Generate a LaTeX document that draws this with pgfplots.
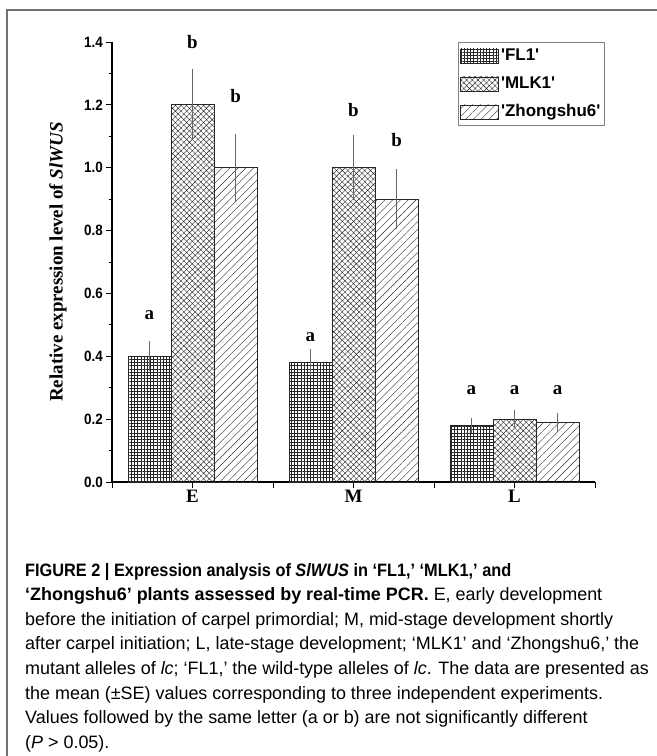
\documentclass[border=0pt]{standalone}
\usepackage{fontspec}
\setmainfont{Liberation Serif}
\newfontfamily\arial{Liberation Sans}
\newfontfamily\arialn{Liberation Sans}[FakeStretch=0.9]
\newfontfamily\tnr{Liberation Serif}
\usepackage{pgfplots}
\pgfplotsset{compat=1.18}
\usetikzlibrary{patterns.meta}
\newcommand\capfont{\arial\fontsize{18}{18}\selectfont}
\newcommand\legfont{\arial\bfseries\fontsize{17}{17}\selectfont}
\begin{document}
\begin{tikzpicture}
\path[use as bounding box] (0,0) rectangle (657bp,-756bp);
\draw[black!55, line width=1.2bp] (7bp,-760bp) -- (7bp,-10bp) -- (660bp,-10bp);
\begin{axis}[
  at={(112bp,-482bp)}, anchor=south west,
  scale only axis, width=483bp, height=440bp,
  xmin=0.5, xmax=3.5, ymin=0, ymax=1.4,
  clip=false,
  ybar=0pt, bar width=43bp,
  axis x line*=bottom, axis y line*=left,
  axis line style={line width=1.3bp, black},
  xtick={1,2,3}, xticklabels={E,M,L},
  extra x ticks={0.5,1.5,2.5,3.5}, extra x tick labels={},
  ytick={0,0.2,0.4,0.6,0.8,1.0,1.2,1.4},
  minor ytick={0.1,0.3,0.5,0.7,0.9,1.1,1.3},
  tick align=outside, major tick length=6bp, minor tick length=3.5bp,
  tick style={black, line width=1bp},
  /pgf/number format/assume math mode=true,
  yticklabel style={font=\arialn\bfseries\fontsize{15}{15}\selectfont, inner sep=3bp},
  yticklabel={\pgfmathprintnumber[fixed,fixed zerofill,precision=1]{\tick}},
  xticklabel style={font=\tnr\bfseries\fontsize{19}{19}\selectfont, inner sep=2bp},
  legend style={at={(0.716,1)}, anchor=north west, draw=black!50, line width=0.8bp,
    font=\legfont, nodes={font=\legfont, text height=13bp, text depth=4bp, inner sep=2bp},
    inner xsep=2bp, inner ysep=3bp, row sep=7bp},
  legend cell align=left,
  legend image code/.code={\draw[#1, line width=0.8bp] (0bp,-7bp) rectangle (38bp,7bp);},
  error bars/error bar style={black!60, line width=0.6bp},
  error bars/error mark options={black!60, line width=0.6bp, mark size=4bp},
]
\addplot[draw=black!85, line width=0.8bp, pattern={Hatch[angle=0,distance=3.2bp,line width=0.4bp]}, pattern color=black!85,
  error bars/.cd, y dir=both, y explicit]
  coordinates {(1,0.40) +- (0,0.035) (2,0.38) +- (0,0.03) (3,0.18) +- (0,0.01)};
\addplot[draw=black!85, line width=0.8bp, pattern={Hatch[angle=45,distance=4bp,line width=0.4bp]}, pattern color=black!85,
  error bars/.cd, y dir=both, y explicit]
  coordinates {(1,1.20) +- (0,0.10) (2,1.00) +- (0,0.09) (3,0.20) +- (0,0.015)};
\addplot[draw=black!85, line width=0.8bp, pattern={Lines[angle=45,distance=5.5bp,line width=0.4bp]}, pattern color=black!85,
  error bars/.cd, y dir=both, y explicit]
  coordinates {(1,1.00) +- (0,0.095) (2,0.90) +- (0,0.082) (3,0.19) +- (0,0.018)};
\legend{\textquotesingle FL1\textquotesingle, \textquotesingle MLK1\textquotesingle, \textquotesingle Zhongshu6\textquotesingle}
\begin{scope}[every node/.style={font=\tnr\bfseries\fontsize{19}{19}\selectfont, inner sep=0pt}]
\node at (axis cs:0.732,0.532) {a};
\node at (axis cs:1,1.40) {b};
\node at (axis cs:1.268,1.229) {b};
\node at (axis cs:1.732,0.462) {a};
\node at (axis cs:2,1.185) {b};
\node at (axis cs:2.268,1.089) {b};
\node at (axis cs:2.732,0.293) {a};
\node at (axis cs:3,0.293) {a};
\node at (axis cs:3.268,0.293) {a};
\end{scope}
\end{axis}
\node[rotate=90, font=\tnr\bfseries\fontsize{19}{19}\selectfont] at (58bp,-262bp) {Relative expression level of \textit{SlWUS}};
\begin{scope}[every node/.style={anchor=base west, inner sep=0pt, font=\capfont}]
\node at (25bp,-576bp) {\scalebox{0.91}[1]{\bfseries FIGURE 2 | Expression analysis of \textit{SlWUS} in ‘FL1,’ ‘MLK1,’ and}};
\node at (25bp,-600.6bp) {\textbf{‘Zhongshu6’ plants assessed by real-time PCR.} E, early development};
\node at (25bp,-625.2bp) {before the initiation of carpel primordial; M, mid-stage development shortly};
\node at (25bp,-649.8bp) {after carpel initiation; L, late-stage development; ‘MLK1’ and ‘Zhongshu6,’ the};
\node at (25bp,-674.4bp) {mutant alleles of \textit{lc}; ‘FL1,’ the wild-type alleles of \textit{lc}. The data are presented as};
\node at (25bp,-699bp) {the mean (±SE) values corresponding to three independent experiments.};
\node at (25bp,-723.6bp) {Values followed by the same letter (a or b) are not significantly different};
\node at (25bp,-748.2bp) {(\textit{P} > 0.05).};
\end{scope}
\end{tikzpicture}
\end{document}
